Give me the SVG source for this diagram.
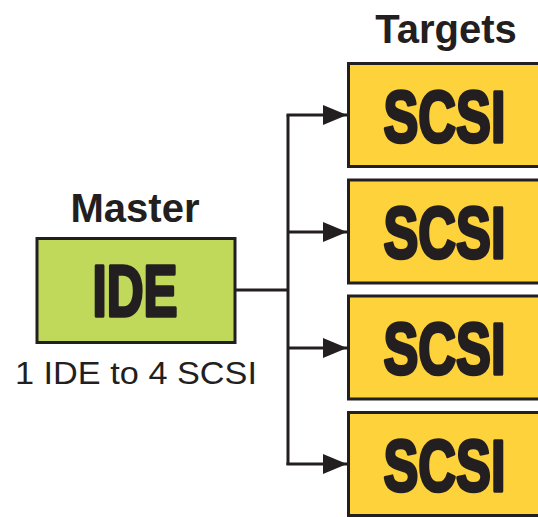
<svg xmlns="http://www.w3.org/2000/svg" width="538" height="517" viewBox="0 0 538 517">
<style>
.lbl{font-family:"Liberation Sans",Arial,sans-serif;font-weight:bold;font-size:40px;fill:#231F20;text-anchor:middle}
.big{font-family:"Liberation Sans",Arial,sans-serif;font-weight:bold;font-size:73px;fill:#231F20;stroke:#231F20;stroke-width:3.5;stroke-linejoin:round}
.cap{font-family:"Liberation Sans",Arial,sans-serif;font-size:31px;fill:#231F20}
.tgt{fill:#FED23A;stroke:#231F20;stroke-width:3}
.mst{fill:#C1D95B;stroke:#231F20;stroke-width:3}
.wire{fill:none;stroke:#231F20;stroke-width:3}
</style>
<defs>
<marker id="ah" markerUnits="userSpaceOnUse" markerWidth="26" markerHeight="22" refX="24" refY="10" orient="auto">
<path d="M0,0 L24,10 L0,20 Z" fill="#231F20"/>
</marker>
</defs>
<text class="lbl" x="446" y="43">Targets</text>
<g id="master">
<text class="lbl" x="135" y="222">Master</text>
<rect class="mst" x="37" y="238.5" width="198" height="104"/>
<text class="big" x="92.5" y="315.5" textLength="85" lengthAdjust="spacingAndGlyphs">IDE</text>
<text class="cap" x="15" y="384" textLength="242" lengthAdjust="spacingAndGlyphs">1 IDE to 4 SCSI</text>
</g>
<g id="scsi1">
<path class="tgt" d="M538,63.5 H348.5 V166.5 H538"/>
<text class="big" x="383.5" y="141.5" textLength="122" lengthAdjust="spacingAndGlyphs">SCSI</text>
</g>
<g id="scsi2">
<path class="tgt" d="M538,180 H348.5 V283 H538"/>
<text class="big" x="383.5" y="258" textLength="122" lengthAdjust="spacingAndGlyphs">SCSI</text>
</g>
<g id="scsi3">
<path class="tgt" d="M538,296 H348.5 V399 H538"/>
<text class="big" x="383.5" y="374" textLength="122" lengthAdjust="spacingAndGlyphs">SCSI</text>
</g>
<g id="scsi4">
<path class="tgt" d="M538,412.5 H348.5 V515.5 H538"/>
<text class="big" x="383.5" y="490.5" textLength="122" lengthAdjust="spacingAndGlyphs">SCSI</text>
</g>
<g id="connectors">
<path class="wire" d="M235,290 H288"/>
<path class="wire" d="M288,115 V465"/>
<path class="wire" d="M286.5,115 H347" marker-end="url(#ah)"/>
<path class="wire" d="M288,232 H347" marker-end="url(#ah)"/>
<path class="wire" d="M288,348 H347" marker-end="url(#ah)"/>
<path class="wire" d="M286.5,464 H347" marker-end="url(#ah)"/>
</g>
</svg>
